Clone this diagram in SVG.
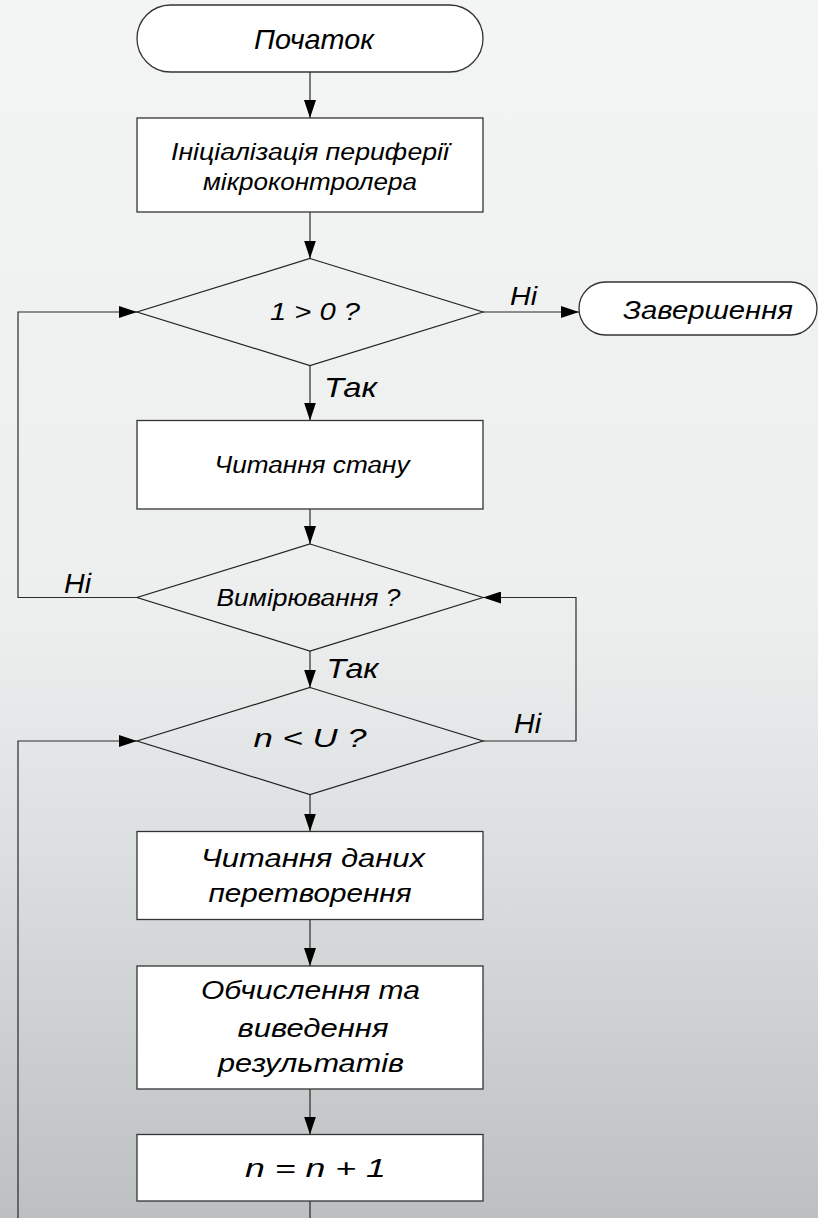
<svg xmlns="http://www.w3.org/2000/svg" width="818" height="1218" viewBox="0 0 818 1218">
  <defs>
    <linearGradient id="bg" x1="0" y1="0" x2="0" y2="1">
      <stop offset="0" stop-color="#f3f4f4"/>
      <stop offset="0.5" stop-color="#edefef"/>
      <stop offset="0.7" stop-color="#dcdfe0"/>
      <stop offset="1" stop-color="#bcc0c1"/>
    </linearGradient>
    <marker id="arrow" viewBox="0 0 18 12" refX="18" refY="6" markerWidth="18" markerHeight="12" markerUnits="userSpaceOnUse" orient="auto">
      <path d="M0,0 L18,6 L0,12 Z" fill="#000"/>
    </marker>
  </defs>
  <style>
    .shape { fill: #fff; stroke: #333; stroke-width: 1.3; }
    .dec { fill: none; stroke: #222; stroke-width: 1.2; }
    .wire { fill: none; stroke: #2a2a2a; stroke-width: 1.2; marker-end: url(#arrow); }
    .plain { fill: none; stroke: #2a2a2a; stroke-width: 1.2; }
    text { font-family: "Liberation Sans", Arial, sans-serif; font-style: italic; fill: #000; }
    .c { text-anchor: middle; }
  </style>

  <rect x="0" y="0" width="818" height="1218" fill="url(#bg)"/>

  <!-- connectors -->
  <g id="connectors">
    <path class="wire" d="M310,72 V118"/>
    <path class="wire" d="M310,212 V258.5"/>
    <path class="wire" d="M483,312 H579"/>
    <path class="wire" d="M310,365.5 V420.5"/>
    <path class="wire" d="M310,509 V544"/>
    <path class="wire" d="M137,597.5 H18 V312 H137"/>
    <path class="wire" d="M310,651 V687.5"/>
    <path class="wire" d="M483,741 H576 V597.5 H483"/>
    <path class="wire" d="M310,794.5 V831.5"/>
    <path class="wire" d="M310,919.5 V966"/>
    <path class="wire" d="M310,1089 V1134.5"/>
    <path class="wire" d="M310,1201 V1240 H18 V741 H137"/>
    <text x="510" y="305" font-size="26" textLength="27" lengthAdjust="spacingAndGlyphs">Ні</text>
    <text x="324" y="396.5" font-size="28" textLength="53" lengthAdjust="spacingAndGlyphs">Так</text>
    <text x="64" y="592.5" font-size="28" textLength="27" lengthAdjust="spacingAndGlyphs">Ні</text>
    <text x="326.5" y="678" font-size="28" textLength="52" lengthAdjust="spacingAndGlyphs">Так</text>
    <text x="514" y="733" font-size="28" textLength="27" lengthAdjust="spacingAndGlyphs">Ні</text>
  </g>

  <g id="start">
    <rect class="shape" x="137" y="5" width="346" height="67" rx="33.5" ry="33.5"/>
    <text class="c" x="314" y="48.5" font-size="28" textLength="120" lengthAdjust="spacingAndGlyphs">Початок</text>
  </g>

  <g id="init">
    <rect class="shape" x="137" y="118" width="346" height="94"/>
    <text class="c" x="310" y="159.5" font-size="23" textLength="278" lengthAdjust="spacingAndGlyphs">Ініціалізація периферії</text>
    <text class="c" x="310" y="189.5" font-size="23" textLength="214" lengthAdjust="spacingAndGlyphs">мікроконтролера</text>
  </g>

  <g id="loop">
    <polygon class="dec" points="310,258.5 483,312 310,365.5 137,312"/>
    <text class="c" x="315" y="320" font-size="23" textLength="90" lengthAdjust="spacingAndGlyphs">1 &gt; 0 ?</text>
  </g>

  <g id="finish">
    <rect class="shape" x="579" y="282" width="238" height="53" rx="26.5" ry="26.5"/>
    <text class="c" x="708" y="318.5" font-size="25" textLength="170" lengthAdjust="spacingAndGlyphs">Завершення</text>
  </g>

  <g id="read-state">
    <rect class="shape" x="137" y="420.5" width="346" height="88.5"/>
    <text class="c" x="312" y="473.3" font-size="23" textLength="195" lengthAdjust="spacingAndGlyphs">Читання стану</text>
  </g>

  <g id="measure">
    <polygon class="dec" points="310,544 483,597.5 310,651 137,597.5"/>
    <text class="c" x="308.5" y="605.5" font-size="23" textLength="184" lengthAdjust="spacingAndGlyphs">Вимірювання ?</text>
  </g>

  <g id="count">
    <polygon class="dec" points="310,687.5 483,741 310,794.5 137,741"/>
    <text class="c" x="310" y="747.3" font-size="25" textLength="113" lengthAdjust="spacingAndGlyphs">n &lt; U ?</text>
  </g>

  <g id="read-data">
    <rect class="shape" x="137" y="831.5" width="346" height="88"/>
    <text class="c" x="313" y="866.5" font-size="26" textLength="224" lengthAdjust="spacingAndGlyphs">Читання даних</text>
    <text class="c" x="310" y="902" font-size="26" textLength="203" lengthAdjust="spacingAndGlyphs">перетворення</text>
  </g>

  <g id="compute">
    <rect class="shape" x="137" y="966" width="346" height="123"/>
    <text class="c" x="310.5" y="999" font-size="26" textLength="219" lengthAdjust="spacingAndGlyphs">Обчислення та</text>
    <text class="c" x="313" y="1036.5" font-size="26" textLength="151" lengthAdjust="spacingAndGlyphs">виведення</text>
    <text class="c" x="311" y="1072" font-size="26" textLength="186" lengthAdjust="spacingAndGlyphs">результатів</text>
  </g>

  <g id="increment">
    <rect class="shape" x="137" y="1134.5" width="346" height="66.5"/>
    <text class="c" x="315.5" y="1177" font-size="26" textLength="141" lengthAdjust="spacingAndGlyphs">n = n + 1</text>
  </g>
</svg>
